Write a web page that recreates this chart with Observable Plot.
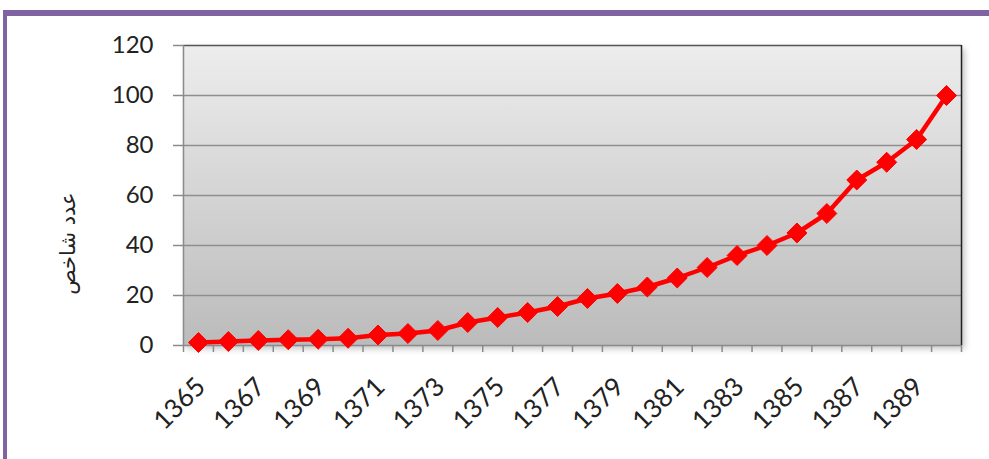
<!DOCTYPE html>
<html>
<head>
<meta charset="utf-8">
<script src="https://cdn.jsdelivr.net/npm/d3@7"></script>
<script src="https://cdn.jsdelivr.net/npm/@observablehq/plot@0.6"></script>
<style>
  html, body { margin: 0; padding: 0; background: #fff; }
  #wrap { position: relative; width: 989px; height: 459px; overflow: hidden; }
  #border { position: absolute; left: 3px; top: 10px; right: 0; bottom: 0;
            border-top: 6px solid #8064a2; border-left: 4px solid #8064a2; pointer-events: none; }
  #chart { position: absolute; left: 0; top: 0; }
</style>
</head>
<body>
<div id="wrap"><div id="chart"></div><div id="border"></div></div>
<script>
const years = [1365,1366,1367,1368,1369,1370,1371,1372,1373,1374,1375,1376,1377,
               1378,1379,1380,1381,1382,1383,1384,1385,1386,1387,1388,1389,1390];
const values = [1.2,1.6,2,2.3,2.5,2.9,4.2,4.8,6,9.2,11.2,13.2,15.6,
                18.8,20.8,23.4,27,31.2,36,40,45,52.8,66.2,73.3,82.4,100];
const yTicks = [0,20,40,60,80,100,120];
const gridValues = [20,40,60,80,100];
const xLabels = [1365,1367,1369,1371,1373,1375,1377,1379,1381,1383,1385,1387,1389];
const yTitle = "عدد شاخص";

const data = years.map((y, i) => ({year: y, value: values[i]}));
const boundaries = [...years.map(y => y - 0.5), years[years.length - 1] + 0.5];
const xMin = boundaries[0], xMax = boundaries[boundaries.length - 1];

const font = "Lato, 'Open Sans', sans-serif";

const chart = Plot.plot({
  width: 989,
  height: 459,
  marginLeft: 183,
  marginRight: 28,
  marginTop: 45,
  marginBottom: 114,
  style: {fontFamily: font, background: "transparent", color: "#222"},
  x: {type: "linear", domain: [xMin, xMax], axis: null},
  y: {domain: [0, 120], axis: null},
  marks: [
    Plot.frame({fill: "url(#bgGrad)", stroke: "none"}),
    Plot.ruleY(gridValues, {stroke: "#8e8e8e", strokeWidth: 1.5}),
    Plot.ruleY([0], {stroke: "#8a8a8a", strokeWidth: 1.5}),
    Plot.ruleY([120], {stroke: "#555", strokeWidth: 1.5}),
    Plot.ruleX([xMin], {stroke: "#8a8a8a", strokeWidth: 1.5}),
    Plot.ruleX([xMax], {stroke: "#222", strokeWidth: 1.5}),
    Plot.axisY({ticks: yTicks, tickSize: 10, tickPadding: 20, fontSize: 24, stroke: "#8a8a8a", strokeWidth: 1.5, label: null, fill: "#222"}),
    Plot.axisX({ticks: boundaries, tickSize: 7, tickFormat: () => "", stroke: "#8a8a8a", strokeWidth: 1.5, label: null}),
    Plot.axisX({ticks: xLabels, tickSize: 0, tickPadding: 30, dx: -26, dy: 21, rotate: -45, fontSize: 26, tickFormat: d => String(d), label: null, fill: "#222"}),
    Plot.line(data, {x: "year", y: "value", stroke: "#ff0000", strokeWidth: 4.5, strokeLinejoin: "round"}),
    Plot.dot(data, {x: "year", y: "value", symbol: "diamond2", r: 9, fill: "#ff0000", stroke: "#ff0000", strokeWidth: 1}),
    Plot.text([yTitle], {frameAnchor: "left", textAnchor: "middle", dx: -115, dy: 48, rotate: -90, fontSize: 21, fontFamily: "'DejaVu Sans', sans-serif", fill: "#222"})
  ]
});

// gradient + shadow definitions
const ns = "http://www.w3.org/2000/svg";
const defs = document.createElementNS(ns, "defs");
defs.innerHTML = `
  <linearGradient id="bgGrad" x1="0" y1="0" x2="0" y2="1">
    <stop offset="0" stop-color="#ededed"/>
    <stop offset="1" stop-color="#bbbbbb"/>
  </linearGradient>
  <filter id="shadow" x="-5%" y="-5%" width="115%" height="125%">
    <feDropShadow dx="3" dy="3" stdDeviation="3" flood-color="#000" flood-opacity="0.25"/>
  </filter>`;
chart.insertBefore(defs, chart.firstChild);
const frameEl = chart.querySelector('[fill="url(#bgGrad)"]');
if (frameEl) frameEl.setAttribute("filter", "url(#shadow)");

document.getElementById("chart").appendChild(chart);
</script>
</body>
</html>
